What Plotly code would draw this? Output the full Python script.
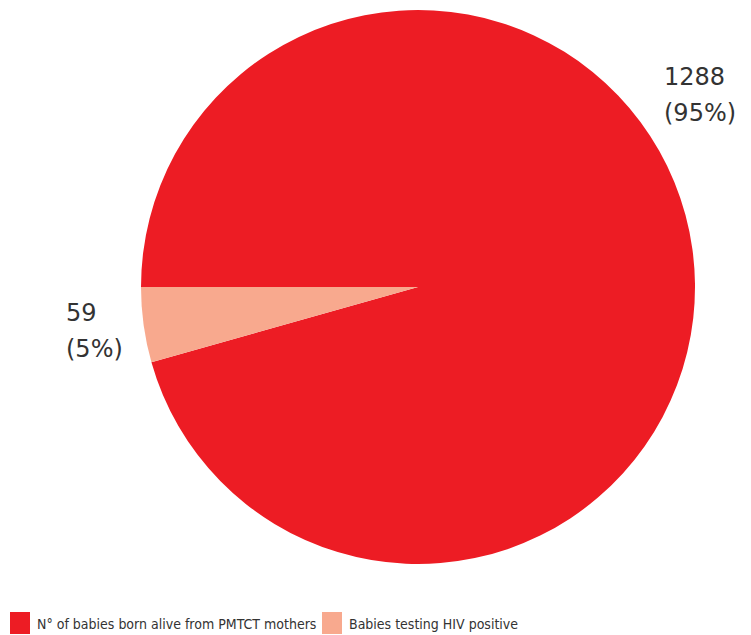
import plotly.graph_objects as go

labels = ["N° of babies born alive from PMTCT mothers", "Babies testing HIV positive"]
values = [1288, 59]
pct_labels = ["(95%)", "(5%)"]
colors = ["#ED1C24", "#F8A98E"]

# page body has an 8px margin; work in figure coords = reference px - 8
OFF = 8
W, H = 751 - OFF, 635 - OFF
cx, cy, r = 418 - OFF, 287 - OFF, 277

fig = go.Figure(go.Pie(
    labels=labels, values=values, sort=False, direction="clockwise", rotation=270,
    marker=dict(colors=colors, line=dict(width=0)), textinfo="none", hoverinfo="label+value",
    domain=dict(x=[(cx - r) / W, (cx + r) / W], y=[1 - (cy + r) / H, 1 - (cy - r) / H]),
    showlegend=False,
))

label_pos = [(662 - OFF, 61 - OFF), (64 - OFF, 297 - OFF)]
font_lbl = dict(family="DejaVu Sans, Verdana, sans-serif", size=24, color="#333333")
anns = []
for (x, y), v, p in zip(label_pos, values, pct_labels):
    anns.append(dict(x=x / W, y=1 - y / H, xref="paper", yref="paper", xanchor="left", yanchor="top",
                     text=str(v), showarrow=False, font=font_lbl))
    anns.append(dict(x=x / W, y=1 - (y + 36) / H, xref="paper", yref="paper", xanchor="left", yanchor="top",
                     text=p, showarrow=False, font=font_lbl))

legend_x = [10 - OFF, 322 - OFF]
shapes = []
for lx, lab, c in zip(legend_x, labels, colors):
    shapes.append(dict(type="rect", xref="paper", yref="paper", x0=lx / W, x1=(lx + 20) / W,
                       y0=1 - (634 - OFF) / H, y1=1 - (612 - OFF) / H, fillcolor=c, line=dict(width=0)))
    anns.append(dict(x=(lx + 25) / W, y=1 - (624 - OFF) / H, xref="paper", yref="paper", xanchor="left", yanchor="middle",
                     text=lab, showarrow=False,
                     font=dict(family="Liberation Sans Narrow, DejaVu Sans Condensed, Arial Narrow, sans-serif", size=14, color="#333333")))

fig.update_layout(width=W, height=H, margin=dict(l=0, r=0, t=0, b=0),
                  paper_bgcolor="white", plot_bgcolor="white",
                  annotations=anns, shapes=shapes)
fig.write_html("out.html")
